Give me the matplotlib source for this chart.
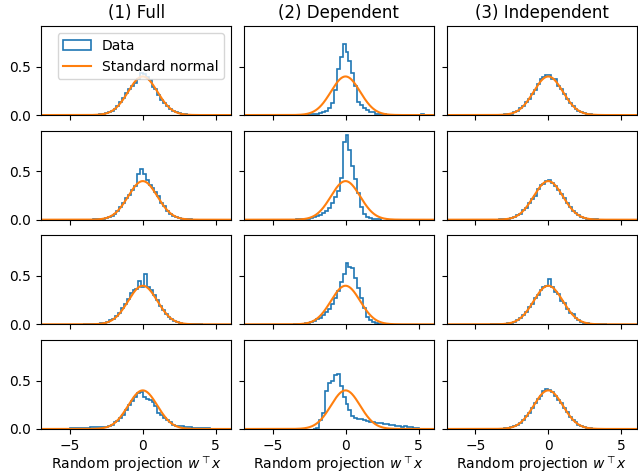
import matplotlib
matplotlib.use('Agg')
import matplotlib.pyplot as plt
import numpy as np

# histogram densities, bin width 0.2, first bin starts at the given left edge
BIN_W = 0.2

full_1_start = -4.0
full_1 = [0.000, 0.001, 0.001, 0.002, 0.004, 0.007, 0.011, 0.018, 0.028, 0.045,
          0.065, 0.095, 0.135, 0.180, 0.225, 0.265, 0.300, 0.330, 0.375, 0.430,
          0.425, 0.390, 0.365, 0.295, 0.270, 0.205, 0.160, 0.125, 0.095, 0.060,
          0.040, 0.028, 0.018, 0.011, 0.006, 0.004, 0.002, 0.001, 0.001, 0.000]
full_2_start = -4.0
full_2 = [0.000, 0.001, 0.001, 0.002, 0.004, 0.006, 0.010, 0.017, 0.025, 0.037,
          0.060, 0.090, 0.130, 0.170, 0.220, 0.260, 0.310, 0.345, 0.470, 0.520,
          0.470, 0.410, 0.360, 0.330, 0.290, 0.240, 0.170, 0.140, 0.085, 0.060,
          0.040, 0.030, 0.017, 0.010, 0.006, 0.004, 0.002, 0.001, 0.001, 0.000]
full_3_start = -4.1
full_3 = [0.000, 0.000, 0.001, 0.002, 0.003, 0.005, 0.009, 0.015, 0.025, 0.040,
          0.060, 0.085, 0.120, 0.170, 0.210, 0.260, 0.320, 0.360, 0.370, 0.450,
          0.390, 0.520, 0.390, 0.350, 0.300, 0.250, 0.190, 0.150, 0.105, 0.075,
          0.050, 0.035, 0.022, 0.014, 0.008, 0.005, 0.003, 0.002, 0.001, 0.000, 0.000]
full_4_start = -5.2
full_4 = [0.003, 0.005, 0.005, 0.006, 0.010, 0.014, 0.013, 0.015, 0.022, 0.024,
          0.024, 0.022, 0.024, 0.017, 0.030, 0.042, 0.070, 0.085, 0.110, 0.145,
          0.200, 0.250, 0.290, 0.330, 0.370, 0.380, 0.330, 0.310, 0.300, 0.280,
          0.240, 0.170, 0.140, 0.115, 0.093, 0.076, 0.045, 0.032, 0.030, 0.028,
          0.024, 0.020, 0.016, 0.012, 0.010, 0.010, 0.008, 0.007, 0.006, 0.003]

dep_1_start = -3.6
dep_1 = [0.001, 0.002, 0.002, 0.003, 0.004, 0.006, 0.008, 0.010, 0.015, 0.022,
         0.030, 0.045, 0.070, 0.120, 0.260, 0.480, 0.600, 0.730, 0.650, 0.560,
         0.430, 0.300, 0.140, 0.100, 0.075, 0.050, 0.035, 0.028, 0.015, 0.010,
         0.008, 0.006, 0.004, 0.003, 0.003, 0.002, 0.004, 0.002, 0.001, 0.002,
         0.001, 0.001, 0.000, 0.001, 0.014, 0.002]
dep_2_start = -3.6
dep_2 = [0.001, 0.002, 0.003, 0.005, 0.008, 0.012, 0.020, 0.030, 0.040, 0.050,
         0.070, 0.090, 0.120, 0.170, 0.230, 0.300, 0.430, 0.800, 0.880, 0.720,
         0.550, 0.420, 0.280, 0.130, 0.060, 0.030, 0.015, 0.008, 0.004, 0.002]
dep_3_start = -3.6
dep_3 = [0.002, 0.003, 0.004, 0.006, 0.010, 0.015, 0.025, 0.035, 0.050, 0.070,
         0.100, 0.130, 0.160, 0.210, 0.270, 0.340, 0.440, 0.520, 0.630, 0.590,
         0.580, 0.480, 0.380, 0.270, 0.170, 0.080, 0.040, 0.020, 0.010, 0.005,
         0.003, 0.001]
dep_4_start = -2.2
dep_4 = [0.002, 0.008, 0.090, 0.160, 0.390, 0.480, 0.500, 0.560, 0.565, 0.440,
         0.330, 0.260, 0.200, 0.130, 0.110, 0.100, 0.100, 0.090, 0.080, 0.075,
         0.068, 0.065, 0.058, 0.060, 0.050, 0.048, 0.045, 0.040, 0.035, 0.030,
         0.025, 0.026, 0.022, 0.024, 0.015, 0.012, 0.004]

ind_1_start = -4.0
ind_1 = [0.000, 0.000, 0.001, 0.002, 0.003, 0.007, 0.011, 0.016, 0.030, 0.042,
         0.068, 0.090, 0.135, 0.168, 0.222, 0.260, 0.318, 0.375, 0.392, 0.415,
         0.412, 0.370, 0.372, 0.300, 0.270, 0.220, 0.165, 0.128, 0.098, 0.062,
         0.045, 0.027, 0.018, 0.010, 0.006, 0.003, 0.002, 0.001, 0.000, 0.000]
ind_2_start = -4.0
ind_2 = [0.000, 0.000, 0.001, 0.002, 0.003, 0.006, 0.010, 0.017, 0.028, 0.045,
         0.062, 0.098, 0.125, 0.175, 0.210, 0.250, 0.320, 0.355, 0.370, 0.395,
         0.412, 0.380, 0.348, 0.310, 0.265, 0.225, 0.172, 0.130, 0.095, 0.065,
         0.045, 0.028, 0.016, 0.010, 0.006, 0.003, 0.002, 0.001, 0.000, 0.000]
ind_3_start = -4.0
ind_3 = [0.000, 0.000, 0.001, 0.002, 0.003, 0.006, 0.011, 0.018, 0.028, 0.042,
         0.068, 0.092, 0.125, 0.175, 0.215, 0.270, 0.300, 0.350, 0.390, 0.400,
         0.465, 0.385, 0.330, 0.310, 0.245, 0.220, 0.160, 0.120, 0.108, 0.068,
         0.045, 0.028, 0.017, 0.010, 0.006, 0.003, 0.002, 0.001, 0.000, 0.000]
ind_4_start = -4.0
ind_4 = [0.000, 0.001, 0.001, 0.002, 0.003, 0.006, 0.010, 0.018, 0.030, 0.046,
         0.064, 0.092, 0.132, 0.168, 0.220, 0.270, 0.305, 0.340, 0.395, 0.410,
         0.400, 0.385, 0.340, 0.300, 0.265, 0.215, 0.175, 0.128, 0.092, 0.068,
         0.044, 0.027, 0.018, 0.010, 0.005, 0.003, 0.002, 0.001, 0.000, 0.000]

col_titles = ['(1) Full', '(2) Dependent', '(3) Independent']
columns = [
    [(full_1_start, full_1), (full_2_start, full_2), (full_3_start, full_3), (full_4_start, full_4)],
    [(dep_1_start, dep_1), (dep_2_start, dep_2), (dep_3_start, dep_3), (dep_4_start, dep_4)],
    [(ind_1_start, ind_1), (ind_2_start, ind_2), (ind_3_start, ind_3), (ind_4_start, ind_4)],
]
x_range = (-6.97, 6.06)

fig, axes = plt.subplots(4, 3, figsize=(6.38, 4.74), dpi=100, sharex=True, sharey=True)
fig.subplots_adjust(left=0.0643, right=0.998, top=0.945, bottom=0.095,
                    wspace=0.066, hspace=0.176)

xs = np.linspace(x_range[0], x_range[1], 400)
pdf = np.exp(-xs**2 / 2) / np.sqrt(2 * np.pi)

for j, col in enumerate(columns):
    for i, (start, heights) in enumerate(col):
        ax = axes[i, j]
        heights = np.array(heights)
        edges = start + BIN_W * np.arange(len(heights) + 1)
        centers = (edges[:-1] + edges[1:]) / 2
        ax.hist(centers, bins=edges, weights=heights, histtype='step',
                color='C0', lw=1.2, label='Data')
        ax.plot(xs, pdf, color='C1', lw=1.5, label='Standard normal')
        ax.set_xlim(*x_range)
        ax.set_ylim(0, 0.92)
        ax.set_yticks([0.0, 0.5])
        ax.set_xticks([-5, 0, 5])
        if i == 0:
            ax.set_title(col_titles[j], fontsize=12)
        if i == 3:
            ax.set_xlabel(r'Random projection $w^\top x$', labelpad=1.5)

axes[0, 0].legend(loc='upper right')
fig.savefig('out.png', dpi=100)
